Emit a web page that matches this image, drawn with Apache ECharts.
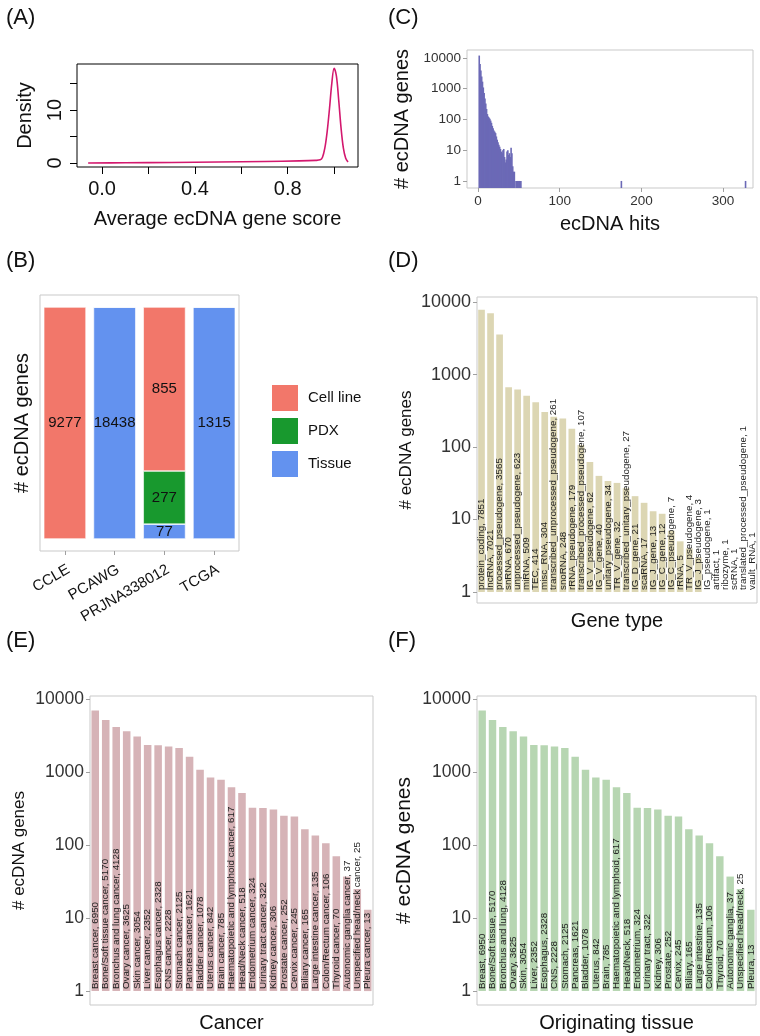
<!DOCTYPE html>
<html>
<head>
<meta charset="utf-8">
<script src="https://cdn.jsdelivr.net/npm/echarts@6/dist/echarts.min.js"></script>
<style>
  html, body { margin: 0; padding: 0; background: #fff; }
  #chart { width: 760px; height: 1036px; }
</style>
</head>
<body>
<div id="chart"></div>
<script>
// (A) density of the average ecDNA gene score
var scoreX = [-0.06, 0.1, 0.3, 0.5, 0.7, 0.85, 0.92, 0.94, 0.95, 0.96, 0.97, 0.98, 0.99, 1.0, 1.01, 1.02, 1.03, 1.04, 1.05, 1.06];
var scoreDensity = [0.0, 0.05, 0.1, 0.2, 0.3, 0.4, 0.5, 0.6, 1.1, 2.8, 5.9, 10.2, 15.0, 17.9, 16.4, 11.8, 6.6, 2.8, 0.9, 0.2];

// (B) genes per data source, split by sample type
var sources = ['CCLE', 'PCAWG', 'PRJNA338012', 'TCGA'];
var cellLine = [9277, 0, 855, 0];
var pdx = [0, 0, 277, 0];
var tissue = [0, 18438, 77, 1315];

// (C) histogram of ecDNA hits per gene
var hits = [1, 2, 3, 4, 5, 6, 7, 8, 9, 10, 11, 12, 13, 14, 15, 16, 17, 18, 19, 20, 21, 22, 23, 24, 25, 26, 27, 28, 29, 30,
  31, 32, 33, 34, 35, 36, 37, 38, 39, 40, 41, 42, 43, 44, 46, 47, 48, 49, 50, 51, 52, 175, 327];
var hitGenes = [12000, 6400, 3900, 2500, 1700, 1100, 720, 480, 330, 220, 150, 125, 115, 105, 92, 78, 62, 52, 44, 40, 36, 28, 22, 18, 15, 13, 11, 9, 8, 10,
  11, 6, 4, 5, 9, 10, 7, 8, 6, 12, 8, 3, 2, 2, 1, 1, 1, 1, 1, 1, 1, 1, 1];

// (D) gene types
var geneTypes = ['protein_coding', 'lncRNA', 'processed_pseudogene', 'snRNA', 'unprocessed_pseudogene', 'miRNA', 'TEC', 'misc_RNA',
  'transcribed_unprocessed_pseudogene', 'snoRNA', 'rRNA_pseudogene', 'transcribed_processed_pseudogene', 'IG_V_pseudogene', 'IG_V_gene',
  'unitary_pseudogene', 'TR_V_gene', 'transcribed_unitary_pseudogene', 'IG_D_gene', 'scaRNA', 'IG_J_gene', 'IG_C_gene', 'IG_C_pseudogene',
  'rRNA', 'TR_V_pseudogene', 'IG_J_pseudogene', 'IG_pseudogene', 'artifact', 'ribozyme', 'scRNA', 'translated_processed_pseudogene', 'vault_RNA'];
var geneTypeCounts = [7851, 7021, 3565, 670, 623, 509, 414, 304, 261, 248, 179, 107, 62, 40, 34, 32, 27, 21, 17, 13, 12, 7, 5, 4, 3, 1, 1, 1, 1, 1, 1];

// (E) cancers
var cancers = ['Breast cancer', 'Bone/Soft tissue cancer', 'Bronchus and lung cancer', 'Ovary cancer', 'Skin cancer', 'Liver cancer',
  'Esophagus cancer', 'CNS cancer', 'Stomach cancer', 'Pancreas cancer', 'Bladder cancer', 'Uterus cancer', 'Brain cancer',
  'Haematopoietic and lymphoid cancer', 'Head/Neck cancer', 'Endometrium cancer', 'Urinary tract cancer', 'Kidney cancer',
  'Prostate cancer', 'Cervix cancer', 'Biliary cancer', 'Large intestine cancer', 'Colon/Rectum cancer', 'Thyroid cancer',
  'Autonomic ganglia cancer', 'Unspecified head/neck cancer', 'Pleura cancer'];
var cancerCounts = [6950, 5170, 4128, 3625, 3054, 2352, 2328, 2228, 2125, 1621, 1078, 842, 785, 617, 518, 324, 322, 306, 252, 245, 165, 135, 106, 70, 37, 25, 13];

// (F) originating tissues
var tissues = ['Breast', 'Bone/Soft tissue', 'Bronchus and lung', 'Ovary', 'Skin', 'Liver', 'Esophagus', 'CNS', 'Stomach', 'Pancreas',
  'Bladder', 'Uterus', 'Brain', 'Haematopoietic and lymphoid', 'Head/Neck', 'Endometrium', 'Urinary tract', 'Kidney', 'Prostate',
  'Cervix', 'Biliary', 'Large intestine', 'Colon/Rectum', 'Thyroid', 'Autonomic ganglia', 'Unspecified head/neck', 'Pleura'];
var tissueCounts = [6950, 5170, 4128, 3625, 3054, 2352, 2328, 2228, 2125, 1621, 1078, 842, 785, 617, 518, 324, 322, 306, 252, 245, 165, 135, 106, 70, 37, 25, 13];

var FONT = 'Liberation Sans';
var frameGrey = '#C9C9C9';
var tickGrey = '#A0A0A0';
var textDark = '#333';
var hitMin = 0.59;

var sourceTotals = sources.map(function (s, i) { return cellLine[i] + pdx[i] + tissue[i]; });
function share(arr) {
  return arr.map(function (v, i) { return v / sourceTotals[i]; });
}

function roundLabel(v) { return String(Math.round(v)); }

// ggplot-looking log y axis
function logY(gridIndex, min, max, fontSize, nameSize, nameGap) {
  return {
    type: 'log', gridIndex: gridIndex, logBase: 10, min: min, max: max,
    axisLine: { show: false, onZero: false },
    axisTick: { show: true, length: 4, lineStyle: { color: tickGrey }, customValues: [1, 10, 100, 1000, 10000] },
    axisLabel: { fontSize: fontSize, color: textDark, margin: 6, customValues: [1, 10, 100, 1000, 10000], formatter: roundLabel },
    splitLine: { show: false },
    name: '# ecDNA genes', nameLocation: 'middle', nameGap: nameGap,
    nameTextStyle: { fontSize: nameSize, color: '#111' }
  };
}

function catX(gridIndex, cats, name, nameGap) {
  return {
    type: 'category', gridIndex: gridIndex, data: cats,
    axisLine: { show: false }, axisTick: { show: false }, axisLabel: { show: false },
    name: name, nameLocation: 'middle', nameGap: nameGap,
    nameTextStyle: { fontSize: 20, color: '#111' }
  };
}

function labelledBars(gridIndex, counts, color, fontSize, barWidth) {
  return {
    type: 'bar', xAxisIndex: gridIndex, yAxisIndex: gridIndex,
    data: counts, barWidth: barWidth,
    itemStyle: { color: color },
    label: {
      show: true, position: 'insideBottom', rotate: 90, align: 'left', verticalAlign: 'middle',
      distance: 2, fontSize: fontSize, color: '#222',
      formatter: function (p) { return p.name + ', ' + p.value; }
    }
  };
}

var ggGrid = { show: true, borderColor: frameGrey, borderWidth: 1, backgroundColor: 'transparent', outerBoundsMode: 'none' };
function grid(l, t, w, h, extra) {
  return Object.assign({}, ggGrid, { left: l, top: t, width: w, height: h }, extra || {});
}

var panelTitle = { fontSize: 22, fontWeight: 'normal', color: '#111', fontFamily: FONT };

var option = {
  animation: false,
  backgroundColor: '#fff',
  textStyle: { fontFamily: FONT },
  title: [
    { text: '(A)', left: 1, top: 2, textStyle: panelTitle },
    { text: '(C)', left: 383, top: 2, textStyle: panelTitle },
    { text: '(B)', left: 1, top: 245, textStyle: panelTitle },
    { text: '(D)', left: 383, top: 245, textStyle: panelTitle },
    { text: '(E)', left: 1, top: 625, textStyle: panelTitle },
    { text: '(F)', left: 383, top: 625, textStyle: panelTitle }
  ],
  // legend order in the picture is Cell line, PDX, Tissue
  legend: {
    data: ['Cell line', 'PDX', 'Tissue'],
    orient: 'vertical', left: 270, top: 383, padding: 0,
    itemWidth: 28, itemHeight: 28, itemGap: 3, icon: 'rect',
    selectedMode: false,
    textStyle: { fontSize: 15, color: '#111', padding: [0, 0, 0, 4] }
  },
  grid: [
    grid(77, 64, 281, 103, { borderColor: '#000' }), // A
    grid(467, 50, 286, 138),                           // C
    grid(40, 295, 199, 256),                           // B
    grid(477, 297, 280, 306),                          // D
    grid(90, 696, 283, 309),                           // E
    grid(477, 696, 279, 309)                           // F
  ],
  xAxis: [
    {
      type: 'value', gridIndex: 0, min: -0.108, max: 1.103,
      axisLine: { show: false, onZero: false },
      axisTick: { show: true, length: 7, lineStyle: { color: '#000' }, customValues: [0, 0.2, 0.4, 0.6, 0.8, 1.0] },
      axisLabel: { fontSize: 20, color: '#111', margin: 12, customValues: [0, 0.4, 0.8], formatter: function (v) { return v.toFixed(1); } },
      splitLine: { show: false },
      name: 'Average ecDNA gene score', nameLocation: 'middle', nameGap: 42,
      nameTextStyle: { fontSize: 20, color: '#111' }
    },
    {
      type: 'value', gridIndex: 1, min: -13.5, max: 336.6,
      axisLine: { show: false, onZero: false },
      axisTick: { show: true, length: 4, lineStyle: { color: tickGrey }, customValues: [0, 100, 200, 300] },
      axisLabel: { fontSize: 13.5, color: textDark, margin: 6, customValues: [0, 100, 200, 300] },
      splitLine: { show: false },
      name: 'ecDNA hits', nameLocation: 'middle', nameGap: 26,
      nameTextStyle: { fontSize: 20, color: '#111' }
    },
    {
      type: 'category', gridIndex: 2, data: sources,
      axisLine: { show: false, onZero: false },
      axisTick: { show: true, alignWithLabel: true, length: 4, lineStyle: { color: tickGrey } },
      axisLabel: { fontSize: 15, color: '#111', rotate: 30, margin: 11, align: 'right', verticalAlign: 'top' }
    },
    catX(3, geneTypes, 'Gene type', 8),
    catX(4, cancers, 'Cancer', 8),
    catX(5, tissues, 'Originating tissue', 8)
  ],
  yAxis: [
    {
      type: 'value', gridIndex: 0, min: -0.75, max: 18.7,
      axisLine: { show: false, onZero: false },
      axisTick: { show: true, length: 7, lineStyle: { color: '#000' }, customValues: [0, 5, 10, 15] },
      axisLabel: { fontSize: 20, color: '#111', margin: 12, rotate: 90, customValues: [0, 10], formatter: roundLabel },
      splitLine: { show: false },
      name: 'Density', nameLocation: 'middle', nameGap: 42,
      nameTextStyle: { fontSize: 20, color: '#111' }
    },
    logY(1, hitMin, 18200, 13.5, 20, 55),
    {
      type: 'value', gridIndex: 2, min: -0.052, max: 1.052,
      axisLine: { show: false, onZero: false }, axisTick: { show: false }, axisLabel: { show: false },
      splitLine: { show: false },
      name: '# ecDNA genes', nameLocation: 'middle', nameGap: 8,
      nameTextStyle: { fontSize: 20, color: '#111' }
    },
    logY(3, 0.705, 11750, 18, 17, 62),
    logY(4, 0.645, 10990, 17.5, 17, 62),
    logY(5, 0.645, 10990, 17.5, 21, 62)
  ],
  series: [
    {
      type: 'line', xAxisIndex: 0, yAxisIndex: 0,
      data: scoreX.map(function (x, i) { return [x, scoreDensity[i]]; }),
      smooth: 0.35, showSymbol: false,
      lineStyle: { color: '#D3186E', width: 1.6 }
    },
    {
      type: 'custom', xAxisIndex: 1, yAxisIndex: 1,
      data: hits.map(function (h, i) { return [h, hitGenes[i]]; }),
      renderItem: function (params, api) {
        var top = api.coord([api.value(0) - 0.5, api.value(1)]);
        var bottom = api.coord([api.value(0) + 0.5, hitMin]);
        return {
          type: 'rect',
          shape: { x: top[0], y: top[1], width: Math.max(bottom[0] - top[0], 1.6), height: bottom[1] - top[1] },
          style: { fill: '#6B69B6' }
        };
      }
    },
    {
      name: 'Tissue', type: 'bar', stack: 'src', xAxisIndex: 2, yAxisIndex: 2,
      data: share(tissue), barWidth: '85%',
      itemStyle: { color: '#6392EF', borderColor: '#fff', borderWidth: 0.6 },
      label: { show: true, position: 'inside', fontSize: 15, color: '#111', formatter: function (p) { return tissue[p.dataIndex] ? String(tissue[p.dataIndex]) : ''; } }
    },
    {
      name: 'PDX', type: 'bar', stack: 'src', xAxisIndex: 2, yAxisIndex: 2,
      data: share(pdx), barWidth: '85%',
      itemStyle: { color: '#18992E', borderColor: '#fff', borderWidth: 0.6 },
      label: { show: true, position: 'inside', fontSize: 15, color: '#111', formatter: function (p) { return pdx[p.dataIndex] ? String(pdx[p.dataIndex]) : ''; } }
    },
    {
      name: 'Cell line', type: 'bar', stack: 'src', xAxisIndex: 2, yAxisIndex: 2,
      data: share(cellLine), barWidth: '85%',
      itemStyle: { color: '#F2776A', borderColor: '#fff', borderWidth: 0.6 },
      label: { show: true, position: 'inside', fontSize: 15, color: '#111', formatter: function (p) { return cellLine[p.dataIndex] ? String(cellLine[p.dataIndex]) : ''; } }
    },
    labelledBars(3, geneTypeCounts, '#DCD6B3', 9.8, '74%'),
    labelledBars(4, cancerCounts, '#D6B3B7', 9.8, '72%'),
    labelledBars(5, tissueCounts, '#B7D6B2', 9.8, '72%')
  ]
};

var chart = echarts.init(document.getElementById('chart'));
chart.setOption(option);
</script>
</body>
</html>
